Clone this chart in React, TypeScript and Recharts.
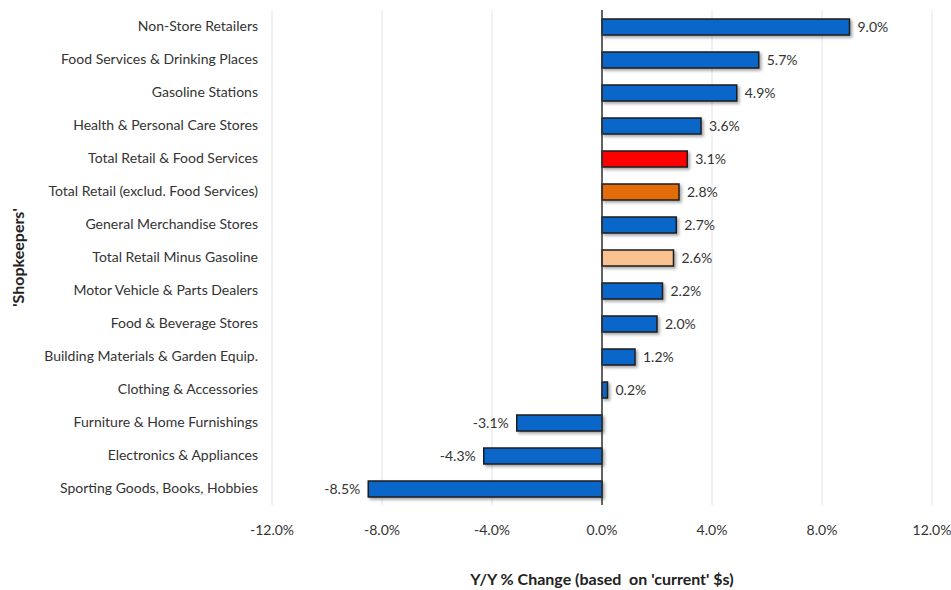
import { BarChart, Bar, XAxis, YAxis, CartesianGrid, Cell, LabelList, ReferenceLine } from 'recharts'

const categories = [
  'Non-Store Retailers',
  'Food Services & Drinking Places',
  'Gasoline Stations',
  'Health & Personal Care Stores',
  'Total Retail & Food Services',
  'Total Retail (exclud. Food Services)',
  'General Merchandise Stores',
  'Total Retail Minus Gasoline',
  'Motor Vehicle & Parts Dealers',
  'Food & Beverage Stores',
  'Building Materials & Garden Equip.',
  'Clothing & Accessories',
  'Furniture & Home Furnishings',
  'Electronics & Appliances',
  'Sporting Goods, Books, Hobbies',
]

const changes = [9.0, 5.7, 4.9, 3.6, 3.1, 2.8, 2.7, 2.6, 2.2, 2.0, 1.2, 0.2, -3.1, -4.3, -8.5]

const xTicks = [-12, -8, -4, 0, 4, 8, 12]

const BLUE = '#0a66c8'
const highlight: Record<string, string> = {
  'Total Retail & Food Services': '#ff0000',
  'Total Retail (exclud. Food Services)': '#e36c0a',
  'Total Retail Minus Gasoline': '#fac08f',
}

const data = categories.map((name, i) => ({ name, value: changes[i] }))

const font = 'Lato, "Open Sans", sans-serif'

export default function App() {
  return (
    <div style={{ position: 'absolute', left: 0, top: 0, width: 951, height: 590, background: '#fff' }}>
      <BarChart
        width={951}
        height={590}
        data={data}
        layout="vertical"
        margin={{ top: 10, right: 19, left: 0, bottom: 45 }}
        barSize={16}
        style={{ fontFamily: font }}
      >
        <CartesianGrid horizontal={false} stroke="#e2e2e2" />
        <XAxis
          type="number"
          domain={[-12, 12]}
          ticks={xTicks}
          tickFormatter={(v: number) => `${v.toFixed(1)}%`}
          axisLine={false}
          tickLine={false}
          tickMargin={14}
          height={40}
          tick={{ fill: '#333', fontSize: 14 }}
          label={{
            value: "Y/Y % Change (based\u00a0 on 'current' $s)",
            position: 'bottom',
            offset: 29,
            style: { fill: '#222', fontSize: 16, fontWeight: 700 },
          }}
        />
        <YAxis
          type="category"
          dataKey="name"
          width={272}
          axisLine={false}
          tickLine={false}
          tickMargin={8}
          interval={0}
          tick={{ fill: '#333', fontSize: 14 }}
          label={{
            value: "'Shopkeepers'",
            angle: -90,
            position: 'insideLeft',
            offset: 18,
            style: { fill: '#222', fontSize: 16, fontWeight: 700, textAnchor: 'middle' },
          }}
        />
        <ReferenceLine x={0} stroke="#333" strokeWidth={1.5} />
        <Bar
          dataKey="value"
          isAnimationActive={false}
          stroke="#1c1c1c"
          strokeWidth={1.5}
          style={{ filter: 'drop-shadow(2px 2px 1.5px rgba(0,0,0,0.35))' }}
        >
          {data.map((d) => (
            <Cell key={d.name} fill={highlight[d.name] ?? BLUE} />
          ))}
          <LabelList
            dataKey="value"
            position="right"
            offset={8}
            formatter={(v: number) => `${Number(v).toFixed(1)}%`}
            style={{ fill: '#333', fontSize: 14 }}
          />
        </Bar>
      </BarChart>
    </div>
  )
}
